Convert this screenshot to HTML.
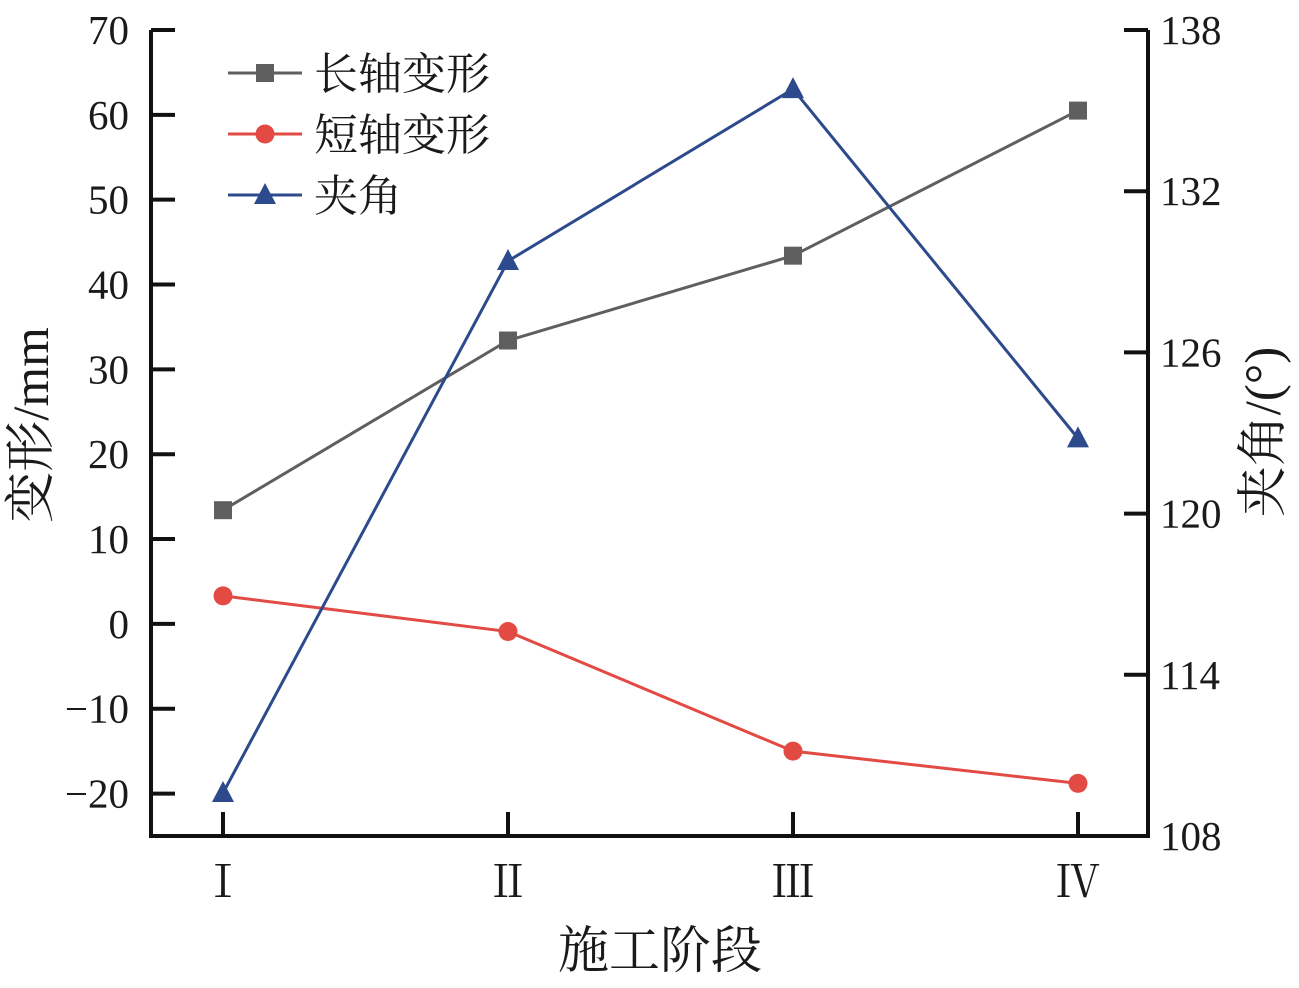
<!DOCTYPE html>
<html><head><meta charset="utf-8"><style>
body{margin:0;background:#fff}
svg text{font-family:"Liberation Serif","Noto Serif CJK SC",serif;fill:#1a1a1a}
</style></head><body>
<svg id="chart" width="1299" height="983" xmlns="http://www.w3.org/2000/svg"></svg>
<script>
const categories=["Ⅰ","Ⅱ","Ⅲ","Ⅳ"];
const longAxis=[13.4,33.4,43.4,60.5];
const shortAxis=[3.3,-0.9,-15,-18.8];
const angle=[109.6,129.4,135.8,122.8];
const leftTicks=[70,60,50,40,30,20,10,0,-10,-20];
const rightTicks=[138,132,126,120,114,108];
const NS="http://www.w3.org/2000/svg";
const svg=document.getElementById('chart');
const L=151,R=1148,T=30,B=836;
const xs=i=>223+i*285;
const yl=v=>T+(70-v)*(B-T)/95;
const yr=v=>T+(138-v)*(B-T)/30;
function mk(tag,attrs,parent){const e=document.createElementNS(NS,tag);for(const k in attrs)e.setAttribute(k,attrs[k]);(parent||svg).appendChild(e);return e;}
const axes=mk('g',{});


mk('path',{d:`M${L},${T} V${B} H${R} V${T}`,fill:'none',stroke:'#111','stroke-width':4},axes);
leftTicks.forEach(v=>{const y=yl(v);
mk('line',{x1:L,x2:L+24,y1:y,y2:y,stroke:'#111','stroke-width':4},axes);
const t=mk('text',{x:L-22,y:y+14,'text-anchor':'end','font-size':41},axes);t.textContent=v<0?'−'+(-v):v;

});
rightTicks.forEach(v=>{const y=yr(v);
mk('line',{x1:R-24,x2:R,y1:y,y2:y,stroke:'#111','stroke-width':4},axes);
const t=mk('text',{x:R+12,y:y+14,'font-size':41},axes);t.textContent=v;

});
categories.forEach((c,i)=>{const x=xs(i);
mk('line',{x1:x,x2:x,y1:B-24,y2:B,stroke:'#111','stroke-width':4},axes);
const t=mk('text',{x:x,y:897,'text-anchor':'middle','font-size':44},axes);t.textContent=c;

});
function title(txt,x,y,rot,name){const t=mk('text',{x:x,y:y,'text-anchor':'middle','font-size':51,transform:rot?`rotate(-90 ${x} ${y})`:''});t.textContent=txt;

}
title('施工阶段',660,968,false,'x-axis-title');
title('变形/mm',48,425,true,'y-axis-title');
title('夹角/(°)',1280,432,true,'y2-axis-title');
function series(vals,yf,color,marker,name){
const g=mk('g',{});


mk('polyline',{points:vals.map((v,i)=>xs(i)+','+yf(v)).join(' '),fill:'none',stroke:color,'stroke-width':3},g);
vals.forEach((v,i)=>drawMarker(g,xs(i),yf(v),color,marker));}
function drawMarker(g,x,y,color,m){
if(m==='sq')mk('rect',{x:x-9,y:y-9,width:18,height:18,fill:color},g);
else if(m==='c')mk('circle',{cx:x,cy:y,r:9.5,fill:color},g);
else mk('polygon',{points:`${x},${y-12} ${x-11},${y+9} ${x+11},${y+9}`,fill:color},g);}
series(longAxis,yl,'#5f5f5f','sq','long-axis-series');
series(shortAxis,yl,'#e24a43','c','short-axis-series');
series(angle,yr,'#2c4a8c','t','angle-series');
const leg=[['长轴变形','#5f5f5f','sq',73],['短轴变形','#e24a43','c',134],['夹角','#2c4a8c','t',195]];
leg.forEach(([n,c,m,y])=>{const g=mk('g',{});


mk('line',{x1:228,x2:302,y1:y,y2:y,stroke:c,'stroke-width':3},g);
drawMarker(g,265,y,c,m);
const t=mk('text',{x:314,y:y+16,'font-size':44},g);t.textContent=n;});
</script>
</body></html>
